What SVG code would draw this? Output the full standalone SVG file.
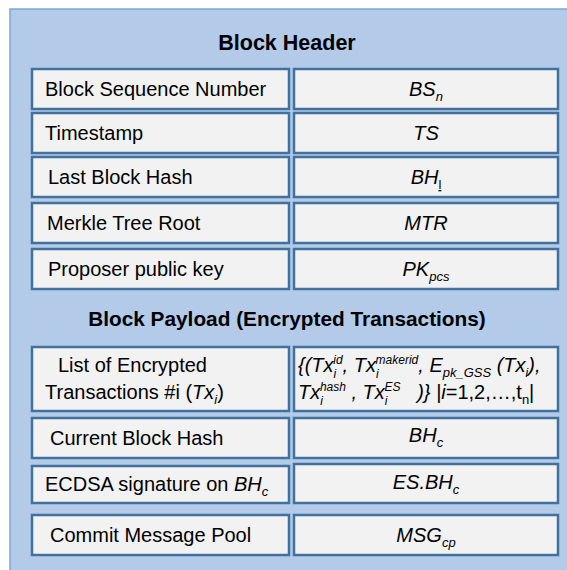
<svg xmlns="http://www.w3.org/2000/svg" width="567" height="570" viewBox="0 0 567 570">
<style>
.panel{fill:#b3cbe9;stroke:#7fa7d6;stroke-width:1.5}
.cell{fill:#f2f2f2;stroke:#41719c;stroke-width:2.5}
.t{font-family:"Liberation Sans",Arial,sans-serif;font-size:20px;fill:#000}
.h{font-family:"Liberation Sans",Arial,sans-serif;font-size:21.5px;font-weight:bold;fill:#000;text-anchor:middle}
.h2{font-size:20.8px}
.m{font-style:italic;text-anchor:middle}
.s{font-size:13px}
.q{font-size:12px}
</style>
<rect class="panel" x="10" y="9" width="580" height="580"/>
<text class="h" x="287" y="50">Block Header</text>
<text class="h h2" x="287" y="326">Block Payload (Encrypted Transactions)</text>

<g id="row-bsn">
<rect class="cell" x="32" y="69" width="257" height="40"/>
<rect class="cell" x="294" y="69" width="264" height="40"/>
<text class="t" x="45" y="96">Block Sequence Number</text>
<text class="t m" x="426" y="96">BS<tspan class="s" dy="5">n</tspan></text>
</g>
<g id="row-ts">
<rect class="cell" x="32" y="113" width="257" height="40"/>
<rect class="cell" x="294" y="113" width="264" height="40"/>
<text class="t" x="45" y="140">Timestamp</text>
<text class="t m" x="426" y="140">TS</text>
</g>
<g id="row-bhl">
<rect class="cell" x="32" y="157" width="257" height="40"/>
<rect class="cell" x="294" y="157" width="264" height="40"/>
<text class="t" x="48" y="184">Last Block Hash</text>
<text class="t m" x="426" y="184">BH<tspan class="s" dy="5" font-style="normal" text-decoration="underline">l</tspan></text>
</g>
<g id="row-mtr">
<rect class="cell" x="32" y="203" width="257" height="40"/>
<rect class="cell" x="294" y="203" width="264" height="40"/>
<text class="t" x="47" y="230">Merkle Tree Root</text>
<text class="t m" x="426" y="230">MTR</text>
</g>
<g id="row-pk">
<rect class="cell" x="32" y="249" width="257" height="40"/>
<rect class="cell" x="294" y="249" width="264" height="40"/>
<text class="t" x="48" y="276">Proposer public key</text>
<text class="t m" x="426" y="276">PK<tspan class="s" dy="5">pcs</tspan></text>
</g>
<g id="row-list">
<rect class="cell" x="32" y="347" width="257" height="64"/>
<rect class="cell" x="294" y="347" width="264" height="64"/>
<text class="t" x="58" y="372">List of Encrypted</text>
<text class="t" x="45" y="399">Transactions #i (<tspan font-style="italic">Tx</tspan><tspan class="s" font-style="italic" dy="5">i</tspan><tspan dy="-5">)</tspan></text>
<text class="t" x="298" y="372" font-style="italic">{(Tx<tspan class="q" dy="6">i</tspan><tspan class="q" dx="-3" dy="-14">id</tspan><tspan dy="8">, Tx</tspan><tspan class="q" dy="6">i</tspan><tspan class="q" dx="-3" dy="-14">makerid</tspan><tspan dy="8">, E</tspan><tspan class="s" dy="5">pk_GSS</tspan><tspan dy="-5"> (Tx</tspan><tspan class="q" dy="5">i</tspan><tspan dy="-5">),</tspan></text>
<text class="t" x="298" y="399" font-style="italic" xml:space="preserve">Tx<tspan class="q" dy="6">i</tspan><tspan class="q" dx="-3" dy="-14">hash</tspan><tspan dy="8"> , Tx</tspan><tspan class="q" dy="6">i</tspan><tspan class="q" dx="-3" dy="-14">ES</tspan><tspan dy="8">   )} |i</tspan><tspan font-style="normal">=1,2,…,t</tspan><tspan class="s" font-style="normal" dy="5">n</tspan><tspan font-style="normal" dy="-5">|</tspan></text>
</g>
<g id="row-bhc">
<rect class="cell" x="32" y="418" width="257" height="40"/>
<rect class="cell" x="294" y="418" width="264" height="40"/>
<text class="t" x="50" y="445">Current Block Hash</text>
<text class="t m" x="426" y="442">BH<tspan class="s" dy="5">c</tspan></text>
</g>
<g id="row-es">
<rect class="cell" x="32" y="466" width="257" height="37"/>
<rect class="cell" x="294" y="464" width="264" height="39"/>
<text class="t" x="45" y="491">ECDSA signature on <tspan font-style="italic">BH</tspan><tspan class="s" font-style="italic" dy="5">c</tspan></text>
<text class="t m" x="426" y="489">ES.BH<tspan class="s" dy="5">c</tspan></text>
</g>
<g id="row-msg">
<rect class="cell" x="32" y="515" width="257" height="40"/>
<rect class="cell" x="294" y="515" width="264" height="40"/>
<text class="t" x="50" y="542">Commit Message Pool</text>
<text class="t m" x="426" y="542">MSG<tspan class="s" dy="5">cp</tspan></text>
</g>
<g id="connectors"/>
</svg>
